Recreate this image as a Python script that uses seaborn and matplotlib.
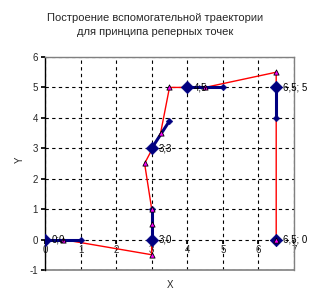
import matplotlib
matplotlib.use("Agg")
import matplotlib.pyplot as plt
import seaborn as sns
import pandas as pd

sns.set_theme(style="white")
plt.rcParams['font.family'] = ['Liberation Sans', 'DejaVu Sans']

# Red auxiliary trajectory
traj_x = [0.5, 3, 3, 3, 2.8, 3.25, 3.5, 4.5, 6.5, 6.5]
traj_y = [0, -0.5, 0.5, 1, 2.5, 3.5, 5, 5, 5.5, 0]

# Reference points (blue) with labels
ref_x = [0, 3, 3, 4, 6.5, 6.5]
ref_y = [0, 0, 3, 5, 5, 0]
ref_labels = ["0;0", "3;0", "3;3", "4;5", "6,5; 5", "6,5; 0"]

# Direction segments from reference points (blue)
seg_id = [0, 0, 1, 1, 2, 2, 3, 3, 4, 4]
seg_x = [0, 1, 3, 3, 3, 3.5, 4, 5, 6.5, 6.5]
seg_y = [0, 0, 0, 1, 3, 3.9, 5, 5, 5, 4]
seg_end_x = [1, 3, 3.5, 5, 6.5]
seg_end_y = [0, 1, 3.9, 5, 4]

x_ticks = [0, 1, 2, 3, 4, 5, 6, 7]
y_ticks = [-1, 0, 1, 2, 3, 4, 5, 6]

title = "Построение вспомогательной траектории\nдля принципа реперных точек"

fig = plt.figure(figsize=(3.11, 3.04), dpi=100)
ax = fig.add_axes([0.1447, 0.112, 0.8006, 0.7005])

df_traj = pd.DataFrame({"x": traj_x, "y": traj_y})
df_seg = pd.DataFrame({"x": seg_x, "y": seg_y, "s": seg_id})

sns.lineplot(data=df_traj, x="x", y="y", sort=False, estimator=None,
             color="#FF0000", linewidth=1.0, ax=ax, zorder=2)
sns.lineplot(data=df_seg, x="x", y="y", units="s", sort=False, estimator=None,
             color="#000080", linewidth=2.2, ax=ax, zorder=3)
sns.scatterplot(x=seg_end_x, y=seg_end_y, marker="D", s=12, color="#000080",
                edgecolor="#000080", ax=ax, zorder=4)
sns.scatterplot(x=ref_x, y=ref_y, marker="D", s=40, color="#000080",
                edgecolor="#000080", ax=ax, zorder=4)
sns.scatterplot(x=traj_x, y=traj_y, marker="^", s=14, color="#FF00FF",
                edgecolor="black", linewidth=0.6, ax=ax, zorder=5)

for lx, ly, lab in zip(ref_x, ref_y, ref_labels):
    ax.annotate(lab, (lx, ly), xytext=(5, 0), textcoords="offset points",
                ha="left", va="center", fontsize=7, color="black", zorder=6)

ax.set_xlim(0, 7)
ax.set_ylim(-1, 6)
ax.set_xticks(x_ticks)
ax.set_yticks(y_ticks)
ax.set_xticklabels([str(v) for v in x_ticks])
ax.set_yticklabels([str(v) for v in y_ticks])

ax.grid(True, color="black", linestyle=(0, (3, 3)), linewidth=0.8)
ax.set_axisbelow(True)

ax.spines['bottom'].set_position(('data', 0))
ax.spines['bottom'].set_visible(False)
ax.axhline(-1, color="#808080", linewidth=1.2, clip_on=False, zorder=1)
ax.spines['top'].set_color("#808080")
ax.spines['right'].set_color("#808080")
ax.spines['left'].set_color("black")
for s in ax.spines.values():
    s.set_linewidth(1.0)

ax.tick_params(axis='x', length=3, color="black", labelsize=7, pad=1, direction="out", bottom=True)
ax.tick_params(axis='y', length=3, color="black", labelsize=7, pad=2, left=True)

ax.set_xlabel("")
ax.set_ylabel("")
fig.text(170 / 311, 1 - 285 / 304, "X", ha="center", va="center", fontsize=7)
fig.text(20 / 311, 1 - 160 / 304, "Y", ha="center", va="center", fontsize=7, rotation=90)
fig.text(155 / 311, 1 - 25 / 304, title, ha="center", va="center", fontsize=8,
         linespacing=1.4)

fig.savefig("out.png", dpi=100)
